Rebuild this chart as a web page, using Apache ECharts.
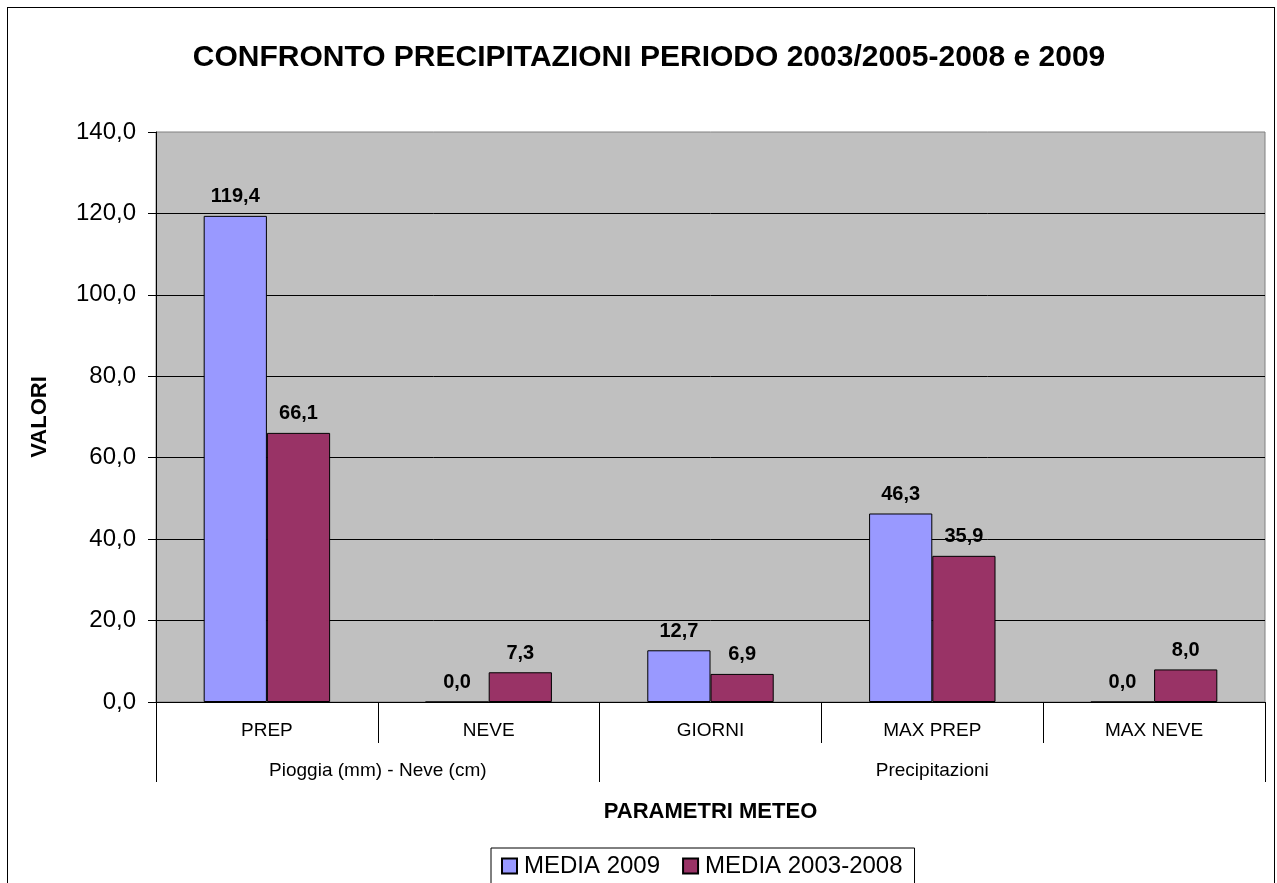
<!DOCTYPE html>
<html>
<head>
<meta charset="utf-8">
<title>Confronto precipitazioni</title>
<script src="https://cdn.jsdelivr.net/npm/echarts@6/dist/echarts.min.js"></script>
<style>
  html, body { margin: 0; padding: 0; background: #fff; }
  #chart { width: 1277px; height: 883px; }
  /* cornice esterna del grafico */
  #frame { position: absolute; left: 7px; top: 7px; width: 1268px; height: 900px;
           border: 1px solid #000; box-sizing: border-box; pointer-events: none; }
</style>
</head>
<body>
<div id="chart"></div>
<div id="frame"></div>
<script>
// categorie (parametri meteo)
var categories = ['PREP', 'NEVE', 'GIORNI', 'MAX PREP', 'MAX NEVE'];
// gruppi di categorie: nome, inizio, fine (in indici di categoria)
var groupNames = ['Pioggia (mm) - Neve (cm)', 'Precipitazioni'];
var groupBounds = [0, 2, 5];
// serie
var media2009 = [119.4, 0.0, 12.7, 46.3, 0.0];
var media2003_2008 = [66.1, 7.3, 6.9, 35.9, 8.0];
var seriesNames = ['MEDIA 2009', 'MEDIA 2003-2008'];
// asse y
var yMin = 0, yMax = 140, yStep = 20;

var FONT = '"Liberation Sans", Arial, sans-serif';

function virgola(v) {
    return Number(v).toFixed(1).replace('.', ',');
}

// centri dei gruppi sull'asse dei valori 0..5
var groupCenters = groupNames.map(function (n, i) {
    return (groupBounds[i] + groupBounds[i + 1]) / 2;
});

var chart = echarts.init(document.getElementById('chart'));

var option = {
    backgroundColor: '#fff',
    animation: false,
    textStyle: { fontFamily: FONT, color: '#000' },
    title: {
        text: 'CONFRONTO PRECIPITAZIONI PERIODO 2003/2005-2008 e 2009',
        left: 644,
        textAlign: 'center',
        top: 38,
        textStyle: { fontFamily: FONT, fontSize: 30, fontWeight: 'bold', color: '#000' }
    },
    legend: {
        data: seriesNames,
        left: 491,
        top: 848,
        orient: 'horizontal',
        itemWidth: 15,
        itemHeight: 15,
        itemGap: 22,
        padding: [6, 12, 12, 10],
        borderColor: '#000',
        borderWidth: 1,
        textStyle: { fontFamily: FONT, fontSize: 24, color: '#000', padding: [0, 0, 0, 2] },
        icon: 'rect'
    },
    grid: {
        left: 156,
        right: 12,
        top: 132,
        bottom: 181,
        show: true,
        backgroundColor: '#C0C0C0',
        borderColor: '#808080',
        borderWidth: 1,
        containLabel: false
    },
    xAxis: [
        {
            type: 'category',
            data: categories,
            boundaryGap: true,
            axisLine: { lineStyle: { color: '#000', width: 1 } },
            axisTick: { show: true, interval: 0, length: 41, lineStyle: { color: '#000' } },
            axisLabel: { interval: 0, margin: 19, fontSize: 19, color: '#000', fontFamily: FONT },
            splitLine: { show: false }
        },
        {
            // seconda riga di etichette: gruppi
            type: 'value',
            min: 0,
            max: categories.length,
            position: 'bottom',
            axisLine: { show: false },
            axisTick: { show: true, length: 80, customValues: groupBounds, lineStyle: { color: '#000' } },
            axisLabel: {
                customValues: groupCenters,
                margin: 59,
                fontSize: 19,
                color: '#000',
                fontFamily: FONT,
                formatter: function (v) {
                    var i = groupCenters.indexOf(v);
                    return i >= 0 ? groupNames[i] : '';
                }
            },
            splitLine: { show: false },
            name: 'PARAMETRI METEO',
            nameLocation: 'middle',
            nameGap: 99,
            nameTextStyle: { fontFamily: FONT, fontSize: 22, fontWeight: 'bold', color: '#000' }
        }
    ],
    yAxis: {
        type: 'value',
        min: yMin,
        max: yMax,
        interval: yStep,
        axisLine: { show: true, lineStyle: { color: '#000' } },
        axisTick: { show: true, length: 8, lineStyle: { color: '#000' } },
        axisLabel: { formatter: virgola, fontSize: 24, margin: 20, color: '#000', fontFamily: FONT },
        splitLine: { show: true, showMaxLine: false, lineStyle: { color: '#000', width: 1 } },
        name: 'VALORI',
        nameLocation: 'middle',
        nameRotate: 90,
        nameGap: 105,
        nameTextStyle: { fontFamily: FONT, fontSize: 22, fontWeight: 'bold', color: '#000' }
    },
    series: [
        {
            name: seriesNames[0],
            type: 'bar',
            data: media2009,
            barGap: '0%',
            barCategoryGap: '43%',
            itemStyle: { color: '#9999FF', borderColor: '#000', borderWidth: 1 },
            label: {
                show: true, position: 'top', distance: 9,
                formatter: function (p) { return virgola(p.value); },
                fontFamily: FONT, fontSize: 20, fontWeight: 'bold', color: '#000'
            }
        },
        {
            name: seriesNames[1],
            type: 'bar',
            data: media2003_2008,
            barGap: '0%',
            barCategoryGap: '43%',
            itemStyle: { color: '#993366', borderColor: '#000', borderWidth: 1 },
            label: {
                show: true, position: 'top', distance: 9,
                formatter: function (p) { return virgola(p.value); },
                fontFamily: FONT, fontSize: 20, fontWeight: 'bold', color: '#000'
            }
        }
    ]
};

chart.setOption(option);
</script>
</body>
</html>
